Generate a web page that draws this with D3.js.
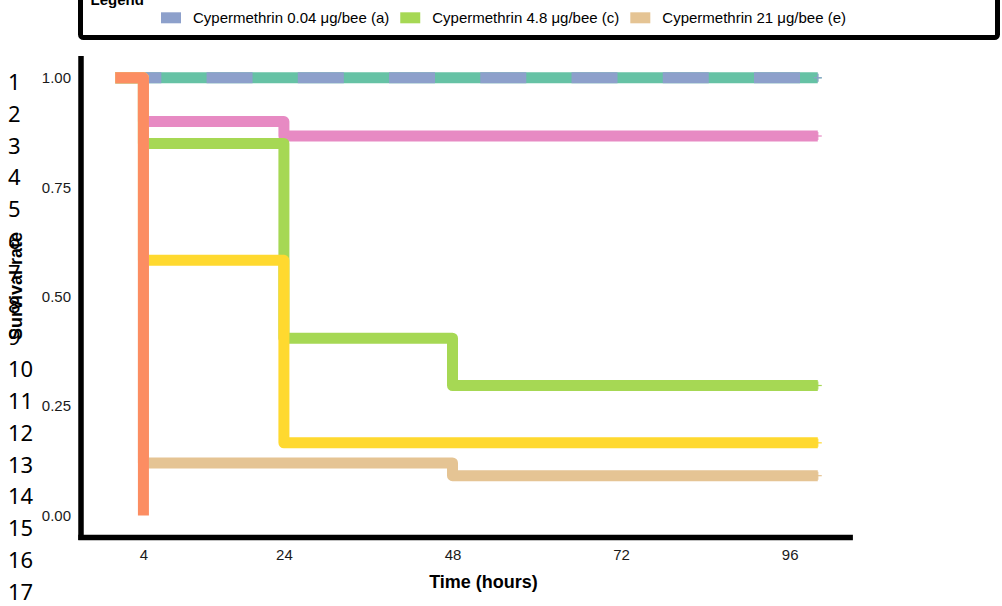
<!DOCTYPE html>
<html>
<head>
<meta charset="utf-8">
<script src="https://cdn.jsdelivr.net/npm/d3@7"></script>
<style>
  html, body { margin: 0; padding: 0; background: #fff; }
  svg { display: block; }
</style>
</head>
<body>
<svg id="chart" width="1002" height="606"></svg>
<script>
// Observation times (hours) and Kaplan–Meier survival per group
const hours = [0, 4, 24, 48, 100];
const survGroup1 = [1, 1, 1, 1, 1];
const survGroupA = [1, 1, 1, 1, 1];
const survGroupB = [1, 0.90, 0.867, 0.867, 0.867];
const survGroupC = [1, 0.85, 0.405, 0.297, 0.297];
const survGroupD = [1, 0.583, 0.166, 0.166, 0.166];
const survGroupE = [1, 0.12, 0.12, 0.091, 0.091];
const hoursGroup2 = [0, 4];
const survGroup2 = [1, 0];

const xTicks = [4, 24, 48, 72, 96];
const yTicks = [0, 0.25, 0.5, 0.75, 1];
const legendLabels = ["Cypermethrin 0.04 μg/bee (a)", "Cypermethrin 4.8 μg/bee (c)", "Cypermethrin 21 μg/bee (e)"];
const lineNumbers = d3.range(1, 18);

const pal = d3.schemeSet2; // teal, orange, blue, pink, green, yellow, tan

// drawing order: later series sit on top
const series = [
  { t: hours, s: survGroup1, color: pal[0], dash: null, censor: true },
  { t: hours, s: survGroupA, color: pal[2], dash: "46,45.24", censor: true },
  { t: hours, s: survGroupB, color: pal[3], dash: null, censor: true },
  { t: hours, s: survGroupC, color: pal[4], dash: null, censor: true },
  { t: hours, s: survGroupD, color: pal[5], dash: null, censor: true },
  { t: hours, s: survGroupE, color: pal[6], dash: null, censor: true },
  { t: hoursGroup2, s: survGroup2, color: pal[1], dash: null, censor: false }
];
const legendColors = [pal[2], pal[4], pal[6]];

const svg = d3.select("#chart");
const font = "Arial, 'Liberation Sans', Helvetica, sans-serif";

const x = d3.scaleLinear().domain([-5, 105]).range([80.2, 852.9]);
const y = d3.scaleLinear().domain([-0.05, 1.05]).range([537.4, 55.9]);

// legend box (top edge runs past the page)
const lg = svg.append("g");
lg.append("rect")
  .attr("x", 80.5).attr("y", -60).attr("width", 917).attr("height", 97.5)
  .attr("rx", 3).attr("fill", "#fff").attr("stroke", "#000").attr("stroke-width", 5);
lg.append("text")
  .attr("x", 90.5).attr("y", 5)
  .attr("font-family", font).attr("font-size", 15).attr("font-weight", "bold")
  .text("Legend");
let lx = 161;
legendLabels.forEach((lab, i) => {
  lg.append("line")
    .attr("x1", lx).attr("x2", lx + 20).attr("y1", 17.8).attr("y2", 17.8)
    .attr("stroke", legendColors[i]).attr("stroke-width", 11);
  const t = lg.append("text")
    .attr("x", lx + 32).attr("y", 23)
    .attr("font-family", font).attr("font-size", 15).attr("fill", "#000")
    .text(lab);
  lx += 32 + t.node().getComputedTextLength() + 11;
});

// manuscript line numbers
svg.append("g").selectAll("text").data(lineNumbers).join("text")
  .attr("x", 8)
  .attr("y", d => 89.7 + (d - 1) * 31.9)
  .attr("font-family", "'Noto Sans', 'Open Sans', sans-serif")
  .attr("font-size", 22).attr("fill", "#000")
  .text(d => d);

// survival curves
const line = d3.line()
  .x(d => x(d[0])).y(d => y(d[1]))
  .curve(d3.curveStepAfter);

const curves = svg.append("g");
series.forEach(sr => {
  const pts = sr.t.map((t, i) => [t, sr.s[i]]);
  curves.append("path")
    .attr("d", line(pts))
    .attr("fill", "none")
    .attr("stroke", sr.color)
    .attr("stroke-width", 11)
    .attr("stroke-linejoin", "round")
    .attr("stroke-linecap", "butt")
    .attr("stroke-dasharray", sr.dash);
});

// censoring marks at end of follow-up
series.filter(sr => sr.censor).forEach(sr => {
  const cx = x(sr.t[sr.t.length - 1]);
  const cy = y(sr.s[sr.s.length - 1]);
  const g = curves.append("g").attr("stroke", sr.color).attr("stroke-width", 1.2);
  g.append("line").attr("x1", cx - 4).attr("x2", cx + 4).attr("y1", cy).attr("y2", cy);
  g.append("line").attr("x1", cx).attr("x2", cx).attr("y1", cy - 4).attr("y2", cy + 4);
});

// axes
const xAxis = svg.append("g").attr("transform", "translate(0,537.5)")
  .call(d3.axisBottom(x).tickValues(xTicks).tickSize(0).tickPadding(12).tickFormat(d3.format("d")));
xAxis.select(".domain").remove();
xAxis.selectAll("text").attr("font-family", font).attr("font-size", 15).attr("fill", "#1a1a1a");

const yAxis = svg.append("g").attr("transform", "translate(81,0)")
  .call(d3.axisLeft(y).tickValues(yTicks).tickSize(0).tickPadding(10).tickFormat(d3.format(".2f")));
yAxis.select(".domain").remove();
yAxis.selectAll("text").attr("font-family", font).attr("font-size", 15).attr("fill", "#1a1a1a");

svg.append("line")
  .attr("x1", 81).attr("x2", 81).attr("y1", 55.9).attr("y2", 540)
  .attr("stroke", "#000").attr("stroke-width", 5.5);
svg.append("line")
  .attr("x1", 78.3).attr("x2", 852.9).attr("y1", 537.5).attr("y2", 537.5)
  .attr("stroke", "#000").attr("stroke-width", 5.5);

// axis titles
svg.append("text")
  .attr("x", 483.5).attr("y", 588)
  .attr("text-anchor", "middle")
  .attr("font-family", font).attr("font-size", 18).attr("font-weight", "bold")
  .text("Time (hours)");
svg.append("text")
  .attr("transform", "translate(22,286) rotate(-90)")
  .attr("text-anchor", "middle")
  .attr("font-family", font).attr("font-size", 18).attr("font-weight", "bold")
  .text("Survival rate");
</script>
</body>
</html>
